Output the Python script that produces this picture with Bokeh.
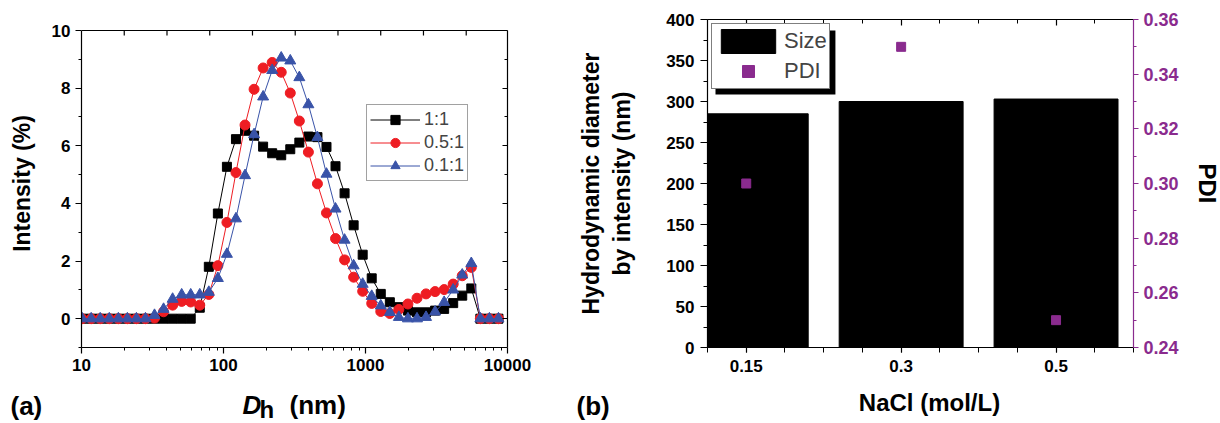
from bokeh.plotting import figure
from bokeh.models import (Range1d, LinearAxis, FixedTicker, Legend, BoxAnnotation, Span,
                          LegendItem, NumeralTickFormatter, CustomJSTickFormatter)
from bokeh.layouts import row, column
from bokeh.core.properties import value
from bokeh.embed import file_html
from bokeh.resources import INLINE

# ---------------- data : panel (a) ----------------
diameter_nm = [10.1, 11.7, 13.54, 15.69, 18.17, 21.04, 24.36, 28.21, 32.67, 37.84,
               43.82, 50.75, 58.77, 68.06, 78.82, 91.28, 105.7, 122.4, 141.8, 164.2,
               190.1, 220.2, 255.0, 295.3, 342.0, 396.1, 458.7, 531.2, 615.1, 712.4,
               825.0, 955.4, 1106, 1281, 1484, 1718, 1990, 2305, 2669, 3091,
               3580, 4145, 4801, 5560, 6439, 7456, 8635]
intensity_1_1 = [0, 0, 0, 0, 0, 0, 0, 0, 0, 0,
                 0, 0, 0, 0.38, 1.80, 3.65, 5.27, 6.23, 6.52, 6.35,
                 5.97, 5.74, 5.67, 5.88, 6.11, 6.32, 6.30, 5.96, 5.29, 4.35,
                 3.24, 2.22, 1.40, 0.86, 0.57, 0.40, 0.28, 0.22, 0.22, 0.28,
                 0.34, 0.54, 0.80, 1.05, 0, 0, 0]
intensity_05_1 = [0, 0, 0, 0, 0, 0, 0, 0, 0.02, 0.24,
                  0.47, 0.60, 0.58, 0.47, 0.84, 1.84, 3.34, 5.07, 6.72, 7.96,
                  8.70, 8.89, 8.55, 7.83, 6.86, 5.78, 4.68, 3.67, 2.78, 2.04,
                  1.44, 0.95, 0.53, 0.25, 0.18, 0.32, 0.51, 0.71, 0.86, 0.94,
                  1.01, 1.20, 1.49, 1.78, 0, 0, 0]
intensity_01_1 = [0, 0, 0, 0, 0, 0, 0, 0, 0.12, 0.33,
                  0.68, 0.83, 0.83, 0.83, 0.92, 1.40, 2.24, 3.47, 4.97, 6.39,
                  7.70, 8.62, 9.05, 8.95, 8.37, 7.43, 6.29, 5.02, 3.81, 2.73,
                  1.84, 1.20, 0.78, 0.45, 0.22, 0.05, 0, 0, 0.05, 0.24,
                  0.57, 1.00, 1.52, 1.92, 0, 0, 0]
series_labels = ["1:1", "0.5:1", "0.1:1"]
x_major_ticks = [10, 100, 1000, 10000]
y_major_ticks_a = [0, 2, 4, 6, 8, 10]
top_ticks_a = [20, 40, 80, 160, 320, 640, 1280, 2560, 5120]

# ---------------- data : panel (b) ----------------
nacl_labels = ["0.15", "0.3", "0.5"]
size_nm = [285, 300, 303]
pdi_values = [0.30, 0.35, 0.25]
size_ticks = [0, 50, 100, 150, 200, 250, 300, 350, 400]
pdi_ticks = [0.24, 0.26, 0.28, 0.30, 0.32, 0.34, 0.36]

FONT = "Liberation Sans"
RED = "#EE1D23"
BLUE = "#3953A8"
PURPLE = "#8A2B8E"

FRAME_TOP = 19      # both frames share the same top (row aligns them)
FRAME_H = 328
BOTTOM = 33         # border below the frames (tick labels)
A_PX_PER_UNIT = 317 / 11.0          # panel (a): -1..10 over 317 px
A_YTOP = 10 + (FRAME_H - 317) / A_PX_PER_UNIT


def style_axis(ax, color="black", size="17px"):
    ax.axis_line_color = color
    ax.axis_line_width = 1.2
    ax.major_tick_line_color = color
    ax.minor_tick_line_color = color
    ax.major_tick_line_width = 1.2
    ax.minor_tick_line_width = 1.0
    ax.major_label_text_font = FONT
    ax.major_label_text_font_style = "bold"
    ax.major_label_text_font_size = size
    ax.major_label_text_color = color


def hide_labels(ax):
    ax.formatter = CustomJSTickFormatter(code="return ''")
    ax.major_label_text_font_size = "0px"
    ax.major_label_standoff = 0


def style_title(ax, size="23px", color="black"):
    ax.axis_label_text_font = FONT
    ax.axis_label_text_font_style = "bold"
    ax.axis_label_text_font_size = size
    ax.axis_label_text_color = color


# ======================= panel (a) =======================
p1 = figure(title=None, x_axis_type="log", x_range=Range1d(10, 10000),
            y_range=Range1d(-1, A_YTOP), frame_width=426, frame_height=FRAME_H,
            min_border_left=81, min_border_right=53, min_border_top=FRAME_TOP,
            min_border_bottom=BOTTOM, output_backend="svg", toolbar_location=None,
            outline_line_color=None)
p1.grid.visible = False

xa = p1.xaxis[0]
xa.ticker = FixedTicker(ticks=x_major_ticks,
                        minor_ticks=[m * t for t in x_major_ticks[:-1] for m in range(2, 10)])
xa.formatter = NumeralTickFormatter(format="0")
style_axis(xa)
xa.major_tick_in, xa.major_tick_out = 0, 6
xa.minor_tick_in, xa.minor_tick_out = 0, 3
xa.major_label_standoff = 5

ya = p1.yaxis[0]
ya.ticker = FixedTicker(ticks=y_major_ticks_a, minor_ticks=[-1, 1, 3, 5, 7, 9])
ya.bounds = (-1, 10)
style_axis(ya)
ya.major_tick_in, ya.major_tick_out = 0, 6
ya.minor_tick_in, ya.minor_tick_out = 0, 3
ya.major_label_standoff = 5
ya.axis_label = "Intensity (%)"
style_title(ya)
ya.axis_label_standoff = 14

right_a = LinearAxis(ticker=FixedTicker(ticks=y_major_ticks_a, minor_ticks=[1, 3, 5, 7, 9]),
                     bounds=(-1, 10))
style_axis(right_a)
hide_labels(right_a)
right_a.major_tick_in, right_a.major_tick_out = 5, 0
right_a.minor_tick_in, right_a.minor_tick_out = 3, 0
p1.add_layout(right_a, "right")

# top border of panel (a) at y = 10 with inward ticks
p1.add_layout(Span(location=10, dimension="width", line_color="black", line_width=1.2))
p1.segment(x0=top_ticks_a, y0=[10] * len(top_ticks_a), x1=top_ticks_a,
           y1=[10 - 5 / A_PX_PER_UNIT] * len(top_ticks_a), line_color="black", line_width=1.2)

l1 = p1.line(diameter_nm, intensity_1_1, line_color="black", line_width=1)
s1 = p1.scatter(diameter_nm, intensity_1_1, marker="square", size=9,
                fill_color="black", line_color="black")
l2 = p1.line(diameter_nm, intensity_05_1, line_color=RED, line_width=1)
s2 = p1.scatter(diameter_nm, intensity_05_1, marker="circle", size=10,
                fill_color=RED, line_color=RED)
l3 = p1.line(diameter_nm, intensity_01_1, line_color=BLUE, line_width=1)
s3 = p1.scatter(diameter_nm, intensity_01_1, marker="triangle", size=11,
                fill_color=BLUE, line_color=BLUE)

leg1 = Legend(items=[LegendItem(label=series_labels[0], renderers=[l1, s1]),
                     LegendItem(label=series_labels[1], renderers=[l2, s2]),
                     LegendItem(label=series_labels[2], renderers=[l3, s3])],
              location=(285, 166), glyph_width=50, glyph_height=23, label_height=23,
              spacing=0, padding=3, margin=0, label_standoff=4,
              label_text_font=FONT, label_text_font_size="18px",
              border_line_color="#444444", border_line_width=1,
              background_fill_color="white", background_fill_alpha=1)
p1.add_layout(leg1)

# ======================= panel (b) =======================
p2 = figure(title=None, x_range=Range1d(0.75, 3.5), y_range=Range1d(0, 400),
            frame_width=426, frame_height=FRAME_H, min_border_left=147, min_border_right=86,
            min_border_top=FRAME_TOP, min_border_bottom=BOTTOM, output_backend="svg",
            toolbar_location=None, outline_line_color=None)
p2.grid.visible = False
p2.extra_y_ranges = {"pdi": Range1d(0.24, 0.36)}

xpos = [i + 1 for i in range(len(nacl_labels))]
quarter = [0.75 + 0.25 * k for k in range(12)]

bars = p2.vbar(x=xpos, top=size_nm, width=0.8, fill_color="black", line_color="black")
pdi_r = p2.scatter(x=xpos, y=pdi_values, marker="square", size=9, fill_color=PURPLE,
                   line_color=PURPLE, y_range_name="pdi")

xb = p2.xaxis[0]
xb.ticker = FixedTicker(ticks=xpos, minor_ticks=quarter)
xb.formatter = CustomJSTickFormatter(args=dict(labels=nacl_labels),
                                     code="const i = Math.round(tick) - 1; return labels[i] || '';")
style_axis(xb)
xb.major_tick_in, xb.major_tick_out = 0, 5
xb.minor_tick_in, xb.minor_tick_out = 0, 5
xb.major_label_standoff = 7

yb = p2.yaxis[0]
yb.ticker = FixedTicker(ticks=size_ticks, minor_ticks=[25 + 50 * k for k in range(8)])
style_axis(yb)
yb.major_tick_in, yb.major_tick_out = 0, 7
yb.minor_tick_in, yb.minor_tick_out = 0, 4
yb.major_label_standoff = 6
yb.axis_label = "Hydrodynamic diameter\nby intensity (nm)"
style_title(yb)
yb.axis_label_standoff = 28

top_b = LinearAxis(ticker=FixedTicker(ticks=xpos, minor_ticks=quarter))
style_axis(top_b)
hide_labels(top_b)
top_b.major_tick_in, top_b.major_tick_out = 6, 0
top_b.minor_tick_in, top_b.minor_tick_out = 4, 0
p2.add_layout(top_b, "above")

right_b = LinearAxis(y_range_name="pdi",
                     ticker=FixedTicker(ticks=pdi_ticks,
                                        minor_ticks=[0.25, 0.27, 0.29, 0.31, 0.33, 0.35]),
                     formatter=NumeralTickFormatter(format="0.00"))
style_axis(right_b, color=PURPLE, size="18px")
right_b.major_tick_in, right_b.major_tick_out = 0, 5
right_b.minor_tick_in, right_b.minor_tick_out = 0, 3
right_b.major_label_standoff = 5
right_b.axis_label = "PDI"
style_title(right_b, size="24px")
right_b.axis_label_standoff = 12
p2.add_layout(right_b, "right")

# legend drop shadow (offset box behind the legend)
B_PX_PER_UNIT = FRAME_H / 400.0
p2.add_layout(BoxAnnotation(left=0.75 + 8 / 155.0, right=0.75 + 128 / 155.0,
                            bottom=253 / B_PX_PER_UNIT, top=317 / B_PX_PER_UNIT,
                            fill_color="black", fill_alpha=1, line_color=None))
leg2 = Legend(items=[LegendItem(label="Size", renderers=[bars]),
                     LegendItem(label="PDI", renderers=[pdi_r])],
              location=(4, 258), glyph_width=68, glyph_height=30, label_height=30,
              spacing=0, padding=2, margin=0, label_standoff=2, label_text_font=FONT,
              label_text_font_size="22px", border_line_color="black",
              border_line_width=1, background_fill_color="white", background_fill_alpha=1)
p2.add_layout(leg2)

# ======================= bottom caption strip =======================
ROW_H = FRAME_TOP + FRAME_H + BOTTOM      # 380
STRIP_H = 423 - ROW_H                      # 43
SHIFT = 11                                 # measured baseline offset of text in the strip
strip = figure(title=None, width=1219, height=STRIP_H, x_range=Range1d(0, 1219),
               y_range=Range1d(0, STRIP_H), x_axis_type=None, y_axis_type=None,
               min_border=0, output_backend="svg", toolbar_location=None,
               outline_line_color=None)
strip.grid.visible = False


def sy(py):
    return 423 - py + SHIFT


strip.text(x=[10, 576], y=[sy(416), sy(416)], text=["(a)", "(b)"],
           text_font=value(FONT), text_font_size=value("26px"), text_font_style=value("bold"),
           text_align="left", text_baseline="alphabetic", text_color="black")
strip.text(x=[242], y=[sy(415)], text=["D"], text_font=value(FONT),
           text_font_size=value("26px"), text_font_style=value("bold italic"),
           text_align="left", text_baseline="alphabetic", text_color="black")
strip.text(x=[259], y=[sy(420)], text=["h"], text_font=value(FONT),
           text_font_size=value("24px"), text_font_style=value("bold"),
           text_align="left", text_baseline="alphabetic", text_color="black")
strip.text(x=[289], y=[sy(415)], text=["(nm)"], text_font=value(FONT),
           text_font_size=value("26px"), text_font_style=value("bold"),
           text_align="left", text_baseline="alphabetic", text_color="black")
strip.text(x=[929], y=[sy(413)], text=["NaCl (mol/L)"], text_font=value(FONT),
           text_font_size=value("24px"), text_font_style=value("bold"),
           text_align="center", text_baseline="alphabetic", text_color="black")

layout = column(row(p1, p2), strip)
open("out.html", "w").write(file_html(layout, INLINE))
